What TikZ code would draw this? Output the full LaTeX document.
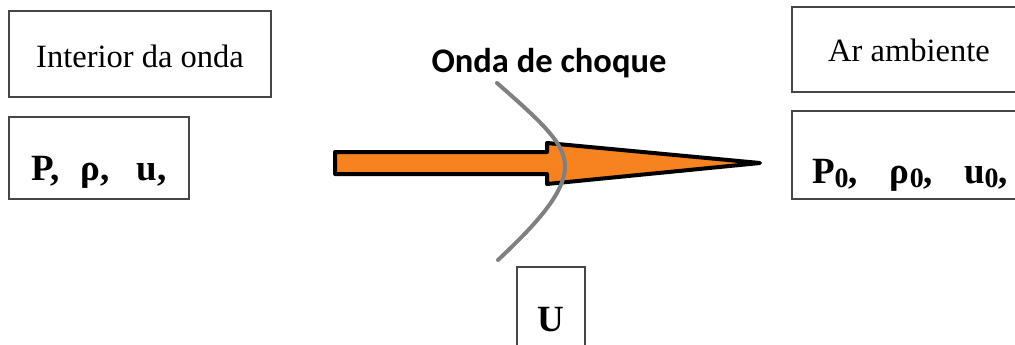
\documentclass[tikz,border=0pt]{standalone}
\usepackage{fontspec}
\setmainfont{Liberation Serif}
\newfontfamily\labelsans{Carlito}
\definecolor{jetorange}{RGB}{247,130,32}
\definecolor{framegray}{RGB}{70,70,70}
\definecolor{shockgray}{RGB}{128,128,128}
\newcommand{\sub}[1]{\raisebox{-0.12em}{\fontsize{28}{28}\selectfont #1}}
\begin{document}
\begin{tikzpicture}[x=1pt,y=-1pt,
  box/.style={draw=framegray, line width=1.6pt, inner sep=0pt, anchor=center},
  plaintext/.style={font=\fontsize{32.5}{38}\selectfont},
  boldtext/.style={font=\fontsize{37}{44}\selectfont\bfseries},
  shock/.style={draw=shockgray, line width=4pt, line cap=round},
  jet/.style={fill=jetorange, draw=black, line width=4pt, line join=round}]
\useasboundingbox (0,0) rectangle (1015,345);
\clip (0,0) rectangle (1015,345);

% state boxes behind and ahead of the front
\node[box, plaintext, minimum width=262pt, minimum height=86pt,
      text height=26pt, text depth=0pt] (inner) at (140,54) {Interior da onda};
\node[box, boldtext, minimum width=180pt, minimum height=82pt,
      text height=44pt, text depth=0pt] (innervars) at (99,158)
      {P,\hspace{21pt}ρ,\hspace{27pt}u,};
\node[box, plaintext, minimum width=234pt, minimum height=85pt,
      text height=25pt, text depth=0pt] (ambient) at (909,49.5) {Ar ambiente};
\node[box, boldtext, minimum width=240pt, minimum height=88pt,
      text height=54pt, text depth=0pt] (ambientvars) at (912,155)
      {};
\node[boldtext, anchor=base, text height=0pt, text depth=0pt, inner sep=0pt]
      (ambientvarstext) at (910,183)
      {P\sub{0},\hspace{32pt}ρ\sub{0},\hspace{31pt}u\sub{0},};
\node[box, boldtext, minimum width=68pt, minimum height=90pt,
      text height=38pt, text depth=0pt] (speed) at (551,312) {U};

% flow arrow
\draw[jet] (335,152) -- (547,152) -- (547,143) -- (760,163)
           -- (547,184) -- (547,174) -- (335,174) -- cycle;

% shock front
\draw[shock] (497,83) .. controls (545,125) and (566,145) .. (565,168)
             .. controls (564,195) and (532,228) .. (498,260);
\node[font=\labelsans\bfseries\fontsize{34.5}{40}\selectfont, anchor=base]
      (shocklabel) at (549,73) {Onda de choque};
\end{tikzpicture}
\end{document}
